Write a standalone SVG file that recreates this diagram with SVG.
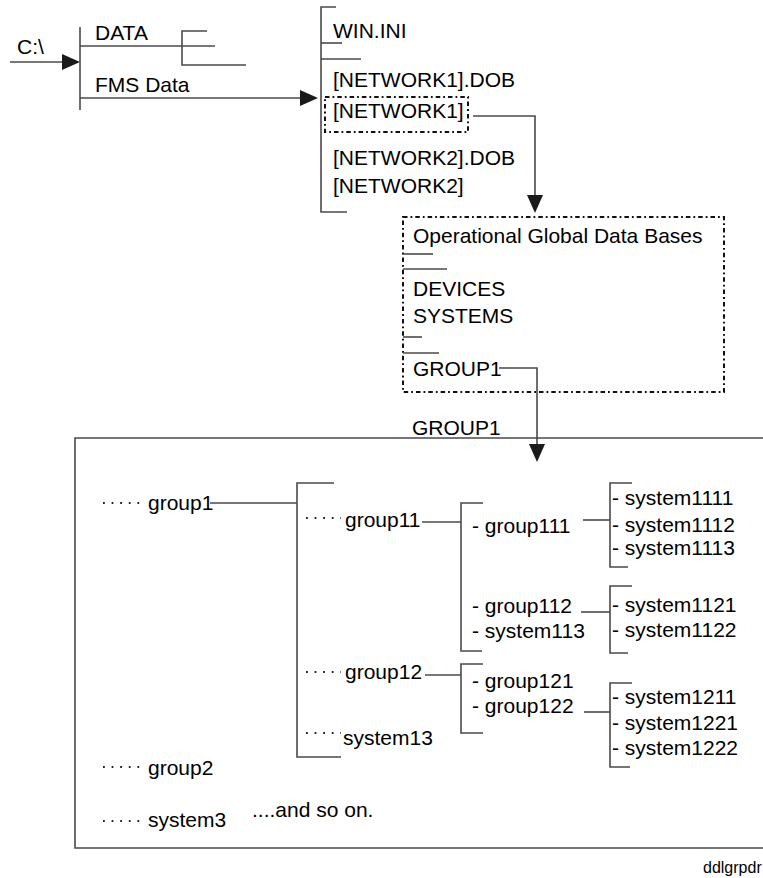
<svg xmlns="http://www.w3.org/2000/svg" width="763" height="878" viewBox="0 0 763 878">
<defs>
<style>
text{font-family:"Liberation Sans",Arial,sans-serif;font-size:21px;fill:#000}
.ln{stroke:#4a4a4a;stroke-width:1.6;fill:none}
.dd{stroke:#111;stroke-width:2;fill:none;stroke-dasharray:4.5 3 1.8 3}
.dots{stroke:#222;stroke-width:1.8;fill:none;stroke-dasharray:1.8 6.8}
.ah{fill:#1a1a1a}
.small{font-size:16px}
</style>
</defs>
<rect width="763" height="878" fill="#fff"/>

<g id="connectors">
<line class="ln" x1="10" y1="62" x2="64" y2="62"/>
<polygon class="ah" points="62,54 80,62 62,70"/>
<line class="ln" x1="80" y1="98" x2="302" y2="98"/>
<polygon class="ah" points="300,90 318,98 300,106"/>
<polyline class="ln" points="473,116 535,116 535,197"/>
<polygon class="ah" points="527,195 535,213 543,195"/>
<polyline class="ln" points="499,368 537,368 537,446"/>
<polygon class="ah" points="529,444 537,462 545,444"/>
<line class="ln" x1="210" y1="503" x2="297" y2="503"/>
<line class="ln" x1="422" y1="522" x2="461" y2="522"/>
<line class="ln" x1="583" y1="520" x2="610" y2="520"/>
<line class="ln" x1="581" y1="612" x2="610" y2="612"/>
<line class="ln" x1="425" y1="675" x2="461" y2="675"/>
<line class="ln" x1="584" y1="712" x2="610" y2="712"/>
</g>

<g id="c-drive">
<text x="17" y="54">C:\</text>
<line class="ln" x1="80" y1="27" x2="80" y2="110"/>
</g>

<g id="data">
<text x="95" y="40">DATA</text>
<line class="ln" x1="80" y1="46" x2="215" y2="46"/>
<polyline class="ln" points="207,31 182,31 182,65 246,65"/>
</g>

<g id="fms-data">
<text x="95" y="92">FMS Data</text>
</g>

<g id="fms-folder">
<polyline class="ln" points="336,7 321,7 321,212 347,212"/>
<line class="ln" x1="321" y1="43" x2="342" y2="43"/>
<line class="ln" x1="321" y1="59" x2="361" y2="59"/>
<text x="333" y="38">WIN.INI</text>
<text x="333" y="87">[NETWORK1].DOB</text>
<text x="333" y="165">[NETWORK2].DOB</text>
<text x="333" y="193">[NETWORK2]</text>
</g>

<g id="network1">
<rect class="dd" x="325" y="97" width="143" height="35"/>
<text x="333" y="118">[NETWORK1]</text>
</g>

<g id="network1-contents">
<rect class="dd" x="403" y="217" width="321" height="175"/>
<text x="413" y="243">Operational Global Data Bases</text>
<line class="ln" x1="403" y1="254" x2="433" y2="254"/>
<line class="ln" x1="403" y1="269" x2="447" y2="269"/>
<text x="413" y="296">DEVICES</text>
<text x="413" y="323">SYSTEMS</text>
<line class="ln" x1="403" y1="337" x2="422" y2="337"/>
<line class="ln" x1="403" y1="353" x2="439" y2="353"/>
<text x="413" y="376">GROUP1</text>
</g>

<g id="group1-panel">
<text x="412" y="435">GROUP1</text>
<polyline class="ln" points="763,438 75,438 75,848 763,848"/>
</g>

<g id="group1">
<line class="dots" x1="103" y1="503" x2="140" y2="503"/>
<text x="148" y="510">group1</text>
<polyline class="ln" points="334,483 297,483 297,757 341,757"/>
</g>

<g id="group11">
<line class="dots" x1="306" y1="518" x2="341" y2="518"/>
<text x="345" y="527">group11</text>
<polyline class="ln" points="483,503 461,503 461,651 482,651"/>
<text x="472" y="533">- group111</text>
<text x="472" y="613">- group112</text>
<text x="472" y="638">- system113</text>
</g>

<g id="group111">
<polyline class="ln" points="632,483 610,483 610,567 628,567"/>
<text x="612" y="505">- system1111</text>
<text x="612" y="532">- system1112</text>
<text x="612" y="555">- system1113</text>
</g>

<g id="group112">
<polyline class="ln" points="632,586 610,586 610,653 628,653"/>
<text x="612" y="612">- system1121</text>
<text x="612" y="637">- system1122</text>
</g>

<g id="group12">
<line class="dots" x1="306" y1="672" x2="341" y2="672"/>
<text x="345" y="679">group12</text>
<polyline class="ln" points="483,664 461,664 461,733 483,733"/>
<text x="472" y="688">- group121</text>
<text x="472" y="713">- group122</text>
</g>

<g id="group122">
<polyline class="ln" points="632,683 610,683 610,767 630,767"/>
<text x="612" y="704">- system1211</text>
<text x="612" y="730">- system1221</text>
<text x="612" y="755">- system1222</text>
</g>

<g id="system13">
<line class="dots" x1="306" y1="733" x2="341" y2="733"/>
<text x="343" y="745">system13</text>
</g>

<g id="group2">
<line class="dots" x1="103" y1="767" x2="140" y2="767"/>
<text x="148" y="775">group2</text>
</g>

<g id="system3">
<line class="dots" x1="103" y1="821" x2="140" y2="821"/>
<text x="148" y="827">system3</text>
<text x="252" y="817">....and so on.</text>
</g>

<g id="caption">
<text class="small" x="703" y="873">ddlgrpdr</text>
</g>
</svg>
